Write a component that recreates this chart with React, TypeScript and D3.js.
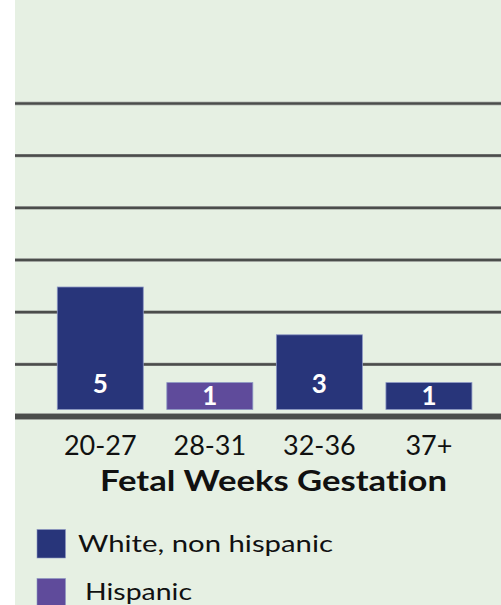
import React from "react";
import * as d3 from "d3";

const categories = ["20-27", "28-31", "32-36", "37+"];
const values = [5, 1, 3, 1];
const groups = ["White, non hispanic", "Hispanic", "White, non hispanic", "White, non hispanic"];
const legendItems = ["White, non hispanic", "Hispanic"];
const gridTicks = [2, 4, 6, 8, 10, 12];
const xTitle = "Fetal Weeks Gestation";

const W = 501;
const H = 605;
const FONT = "Lato, 'Open Sans', sans-serif";
const BG = "#e6f0e3";
const GRID = "#4b4d4b";
const noLig = { fontVariantLigatures: "none" as const, fontFeatureSettings: '"liga" 0, "clig" 0, "dlig" 0' };

export default function App() {
  const color = d3.scaleOrdinal<string, string>().domain(legendItems).range(["#28357a", "#5f4b9b"]);
  const x = d3.scaleBand<string>().domain(categories).range([45.5, 483.7]).paddingInner(0.215).paddingOuter(0.1075);
  const yGrid = d3.scaleLinear().domain([0, 12]).range([416.5, 103.5]);
  const yBar = d3.scaleLinear().domain([0, 5]).range([406.5, 287]);
  const barBottom = yBar(0) + 3;
  const legendWidths = [255, 107];

  return (
    <svg width={W} height={H} style={{ position: "absolute", left: 0, top: 0 }} fontFamily={FONT}>
      <rect x={0} y={0} width={W} height={H} fill="#ffffff" />
      <rect x={15} y={0} width={W - 15} height={H} fill={BG} />
      {gridTicks.map((t) => (
        <g key={t}>
          <line x1={15} x2={W} y1={yGrid(t)} y2={yGrid(t)} stroke="#8a8d8a" strokeWidth={3.4} />
          <line x1={15} x2={W} y1={yGrid(t)} y2={yGrid(t)} stroke={GRID} strokeWidth={2.2} />
        </g>
      ))}
      <line x1={15} x2={W} y1={yGrid(0)} y2={yGrid(0)} stroke="#8a8d8a" strokeWidth={6.5} />
      <line x1={15} x2={W} y1={yGrid(0)} y2={yGrid(0)} stroke={GRID} strokeWidth={5} />
      {categories.map((c, i) => {
        const x0 = x(c) as number;
        const top = yBar(values[i]);
        const labelY = Math.max(barBottom - 17, top + 22);
        return (
          <g key={c}>
            <rect x={x0} y={top} width={x.bandwidth()} height={barBottom - top} fill={color(groups[i])} stroke="#8c97c4" strokeWidth={0.8} />
            <text x={x0 + x.bandwidth() / 2} y={labelY} textAnchor="middle" fill="#ffffff" fontWeight="bold" fontSize={26}>
              {values[i]}
            </text>
            <text x={x0 + x.bandwidth() / 2} y={455} textAnchor="middle" fill="#111111" fontSize={27}>
              {c}
            </text>
          </g>
        );
      })}
      <text x={100} y={491} fill="#111111" fontWeight="bold" fontSize={28.5} textLength={347} lengthAdjust="spacingAndGlyphs" style={noLig}>
        {xTitle}
      </text>
      {legendItems.map((g, i) => (
        <g key={g}>
          <rect x={37} y={529.5 + i * 49} width={28.5} height={28.5} fill={color(g)} stroke="#8c97c4" strokeWidth={0.6} />
          <text x={i === 0 ? 78 : 85} y={552 + i * 48} fill="#111111" fontSize={23} textLength={legendWidths[i]} lengthAdjust="spacingAndGlyphs">
            {g}
          </text>
        </g>
      ))}
    </svg>
  );
}
